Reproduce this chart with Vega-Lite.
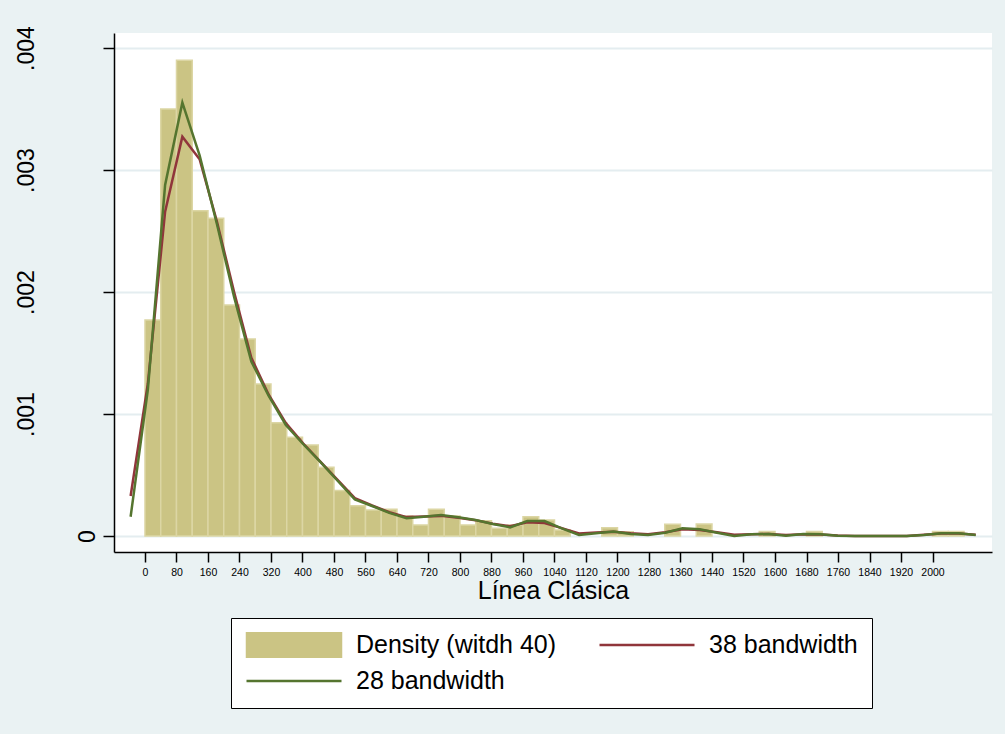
{
  "$schema": "https://vega.github.io/schema/vega-lite/v6.json",
  "width": 878,
  "height": 519,
  "autosize": {"type": "none"},
  "padding": {"left": 114, "top": 33, "right": 13, "bottom": 182},
  "background": "#EAF2F3",
  "config": {
    "view": {"fill": "white", "stroke": null},
    "font": "Liberation Sans",
    "axis": {"labelOverlap": false}
  },
  "datasets": {
    "hist": [
      {"start": 0, "end": 40, "density": 0.00177, "series": "Density (witdh 40)"},
      {"start": 40, "end": 80, "density": 0.0035, "series": "Density (witdh 40)"},
      {"start": 80, "end": 120, "density": 0.0039, "series": "Density (witdh 40)"},
      {"start": 120, "end": 160, "density": 0.002667, "series": "Density (witdh 40)"},
      {"start": 160, "end": 200, "density": 0.002604, "series": "Density (witdh 40)"},
      {"start": 200, "end": 240, "density": 0.001893, "series": "Density (witdh 40)"},
      {"start": 240, "end": 280, "density": 0.001615, "series": "Density (witdh 40)"},
      {"start": 280, "end": 320, "density": 0.001246, "series": "Density (witdh 40)"},
      {"start": 320, "end": 360, "density": 0.000929, "series": "Density (witdh 40)"},
      {"start": 360, "end": 400, "density": 0.000809, "series": "Density (witdh 40)"},
      {"start": 400, "end": 440, "density": 0.000746, "series": "Density (witdh 40)"},
      {"start": 440, "end": 480, "density": 0.000563, "series": "Density (witdh 40)"},
      {"start": 480, "end": 520, "density": 0.000372, "series": "Density (witdh 40)"},
      {"start": 520, "end": 560, "density": 0.000249, "series": "Density (witdh 40)"},
      {"start": 560, "end": 600, "density": 0.000213, "series": "Density (witdh 40)"},
      {"start": 600, "end": 640, "density": 0.000219, "series": "Density (witdh 40)"},
      {"start": 640, "end": 680, "density": 0.000164, "series": "Density (witdh 40)"},
      {"start": 680, "end": 720, "density": 0.00009, "series": "Density (witdh 40)"},
      {"start": 720, "end": 760, "density": 0.000219, "series": "Density (witdh 40)"},
      {"start": 760, "end": 800, "density": 0.000164, "series": "Density (witdh 40)"},
      {"start": 800, "end": 840, "density": 0.00009, "series": "Density (witdh 40)"},
      {"start": 840, "end": 880, "density": 0.000126, "series": "Density (witdh 40)"},
      {"start": 880, "end": 920, "density": 0.000063, "series": "Density (witdh 40)"},
      {"start": 920, "end": 960, "density": 0.00009, "series": "Density (witdh 40)"},
      {"start": 960, "end": 1000, "density": 0.000158, "series": "Density (witdh 40)"},
      {"start": 1000, "end": 1040, "density": 0.000131, "series": "Density (witdh 40)"},
      {"start": 1040, "end": 1080, "density": 0.000049, "series": "Density (witdh 40)"},
      {"start": 1160, "end": 1200, "density": 0.000068, "series": "Density (witdh 40)"},
      {"start": 1200, "end": 1240, "density": 0.000035, "series": "Density (witdh 40)"},
      {"start": 1320, "end": 1360, "density": 0.000096, "series": "Density (witdh 40)"},
      {"start": 1400, "end": 1440, "density": 0.000098, "series": "Density (witdh 40)"},
      {"start": 1560, "end": 1600, "density": 0.000036, "series": "Density (witdh 40)"},
      {"start": 1680, "end": 1720, "density": 0.000036, "series": "Density (witdh 40)"},
      {"start": 2000, "end": 2040, "density": 0.000036, "series": "Density (witdh 40)"},
      {"start": 2040, "end": 2080, "density": 0.000036, "series": "Density (witdh 40)"}
    ],
    "kde": [
      {"start": -36.5, "density": 0.000328, "series": "38 bandwidth"},
      {"start": 7.3, "density": 0.00125, "series": "38 bandwidth"},
      {"start": 51.1, "density": 0.002658, "series": "38 bandwidth"},
      {"start": 94.9, "density": 0.003273, "series": "38 bandwidth"},
      {"start": 138.7, "density": 0.003088, "series": "38 bandwidth"},
      {"start": 182.5, "density": 0.00258, "series": "38 bandwidth"},
      {"start": 226.3, "density": 0.002, "series": "38 bandwidth"},
      {"start": 270.1, "density": 0.00146, "series": "38 bandwidth"},
      {"start": 313.9, "density": 0.00116, "series": "38 bandwidth"},
      {"start": 357.7, "density": 0.000925, "series": "38 bandwidth"},
      {"start": 401.5, "density": 0.00076, "series": "38 bandwidth"},
      {"start": 445.3, "density": 0.00061, "series": "38 bandwidth"},
      {"start": 489.1, "density": 0.00046, "series": "38 bandwidth"},
      {"start": 532.9, "density": 0.00031, "series": "38 bandwidth"},
      {"start": 576.7, "density": 0.00025, "series": "38 bandwidth"},
      {"start": 620.5, "density": 0.000195, "series": "38 bandwidth"},
      {"start": 664.3, "density": 0.000155, "series": "38 bandwidth"},
      {"start": 708.1, "density": 0.00016, "series": "38 bandwidth"},
      {"start": 751.9, "density": 0.000165, "series": "38 bandwidth"},
      {"start": 795.7, "density": 0.00015, "series": "38 bandwidth"},
      {"start": 839.5, "density": 0.00013, "series": "38 bandwidth"},
      {"start": 883.3, "density": 0.0001, "series": "38 bandwidth"},
      {"start": 927.1, "density": 0.00008, "series": "38 bandwidth"},
      {"start": 970.9, "density": 0.000112, "series": "38 bandwidth"},
      {"start": 1014.7, "density": 0.000107, "series": "38 bandwidth"},
      {"start": 1058.5, "density": 0.000065, "series": "38 bandwidth"},
      {"start": 1102.3, "density": 0.00002, "series": "38 bandwidth"},
      {"start": 1146.1, "density": 0.000028, "series": "38 bandwidth"},
      {"start": 1189.9, "density": 0.000035, "series": "38 bandwidth"},
      {"start": 1233.7, "density": 0.000022, "series": "38 bandwidth"},
      {"start": 1277.5, "density": 0.000015, "series": "38 bandwidth"},
      {"start": 1321.3, "density": 0.00003, "series": "38 bandwidth"},
      {"start": 1365.1, "density": 0.000055, "series": "38 bandwidth"},
      {"start": 1408.9, "density": 0.00005, "series": "38 bandwidth"},
      {"start": 1452.7, "density": 0.00003, "series": "38 bandwidth"},
      {"start": 1496.5, "density": 0.00001, "series": "38 bandwidth"},
      {"start": 1540.3, "density": 0.000015, "series": "38 bandwidth"},
      {"start": 1584.1, "density": 0.000016, "series": "38 bandwidth"},
      {"start": 1627.9, "density": 0.000008, "series": "38 bandwidth"},
      {"start": 1671.7, "density": 0.000014, "series": "38 bandwidth"},
      {"start": 1715.5, "density": 0.000012, "series": "38 bandwidth"},
      {"start": 1759.3, "density": 0.000004, "series": "38 bandwidth"},
      {"start": 1803.1, "density": 0.000001, "series": "38 bandwidth"},
      {"start": 1846.9, "density": 0, "series": "38 bandwidth"},
      {"start": 1890.7, "density": 0, "series": "38 bandwidth"},
      {"start": 1934.5, "density": 0.000001, "series": "38 bandwidth"},
      {"start": 1978.3, "density": 0.00001, "series": "38 bandwidth"},
      {"start": 2022.1, "density": 0.00002, "series": "38 bandwidth"},
      {"start": 2065.9, "density": 0.00002, "series": "38 bandwidth"},
      {"start": 2109.7, "density": 0.00001, "series": "38 bandwidth"},
      {"start": -36.5, "density": 0.000158, "series": "28 bandwidth"},
      {"start": 7.3, "density": 0.0012, "series": "28 bandwidth"},
      {"start": 51.1, "density": 0.002877, "series": "28 bandwidth"},
      {"start": 94.9, "density": 0.003552, "series": "28 bandwidth"},
      {"start": 138.7, "density": 0.00312, "series": "28 bandwidth"},
      {"start": 182.5, "density": 0.00256, "series": "28 bandwidth"},
      {"start": 226.3, "density": 0.00196, "series": "28 bandwidth"},
      {"start": 270.1, "density": 0.00143, "series": "28 bandwidth"},
      {"start": 313.9, "density": 0.00115, "series": "28 bandwidth"},
      {"start": 357.7, "density": 0.00091, "series": "28 bandwidth"},
      {"start": 401.5, "density": 0.000754, "series": "28 bandwidth"},
      {"start": 445.3, "density": 0.000607, "series": "28 bandwidth"},
      {"start": 489.1, "density": 0.000453, "series": "28 bandwidth"},
      {"start": 532.9, "density": 0.0003, "series": "28 bandwidth"},
      {"start": 576.7, "density": 0.000246, "series": "28 bandwidth"},
      {"start": 620.5, "density": 0.00019, "series": "28 bandwidth"},
      {"start": 664.3, "density": 0.000145, "series": "28 bandwidth"},
      {"start": 708.1, "density": 0.000158, "series": "28 bandwidth"},
      {"start": 751.9, "density": 0.000172, "series": "28 bandwidth"},
      {"start": 795.7, "density": 0.000153, "series": "28 bandwidth"},
      {"start": 839.5, "density": 0.000131, "series": "28 bandwidth"},
      {"start": 883.3, "density": 0.000098, "series": "28 bandwidth"},
      {"start": 927.1, "density": 0.000071, "series": "28 bandwidth"},
      {"start": 970.9, "density": 0.000123, "series": "28 bandwidth"},
      {"start": 1014.7, "density": 0.000123, "series": "28 bandwidth"},
      {"start": 1058.5, "density": 0.000063, "series": "28 bandwidth"},
      {"start": 1102.3, "density": 0.000008, "series": "28 bandwidth"},
      {"start": 1146.1, "density": 0.000022, "series": "28 bandwidth"},
      {"start": 1189.9, "density": 0.000036, "series": "28 bandwidth"},
      {"start": 1233.7, "density": 0.000016, "series": "28 bandwidth"},
      {"start": 1277.5, "density": 0.000008, "series": "28 bandwidth"},
      {"start": 1321.3, "density": 0.000027, "series": "28 bandwidth"},
      {"start": 1365.1, "density": 0.000063, "series": "28 bandwidth"},
      {"start": 1408.9, "density": 0.000055, "series": "28 bandwidth"},
      {"start": 1452.7, "density": 0.000027, "series": "28 bandwidth"},
      {"start": 1496.5, "density": 0, "series": "28 bandwidth"},
      {"start": 1540.3, "density": 0.000014, "series": "28 bandwidth"},
      {"start": 1584.1, "density": 0.000016, "series": "28 bandwidth"},
      {"start": 1627.9, "density": 0.000003, "series": "28 bandwidth"},
      {"start": 1671.7, "density": 0.000016, "series": "28 bandwidth"},
      {"start": 1715.5, "density": 0.000014, "series": "28 bandwidth"},
      {"start": 1759.3, "density": 0.000003, "series": "28 bandwidth"},
      {"start": 1803.1, "density": 0.000001, "series": "28 bandwidth"},
      {"start": 1846.9, "density": 0, "series": "28 bandwidth"},
      {"start": 1890.7, "density": 0, "series": "28 bandwidth"},
      {"start": 1934.5, "density": 0, "series": "28 bandwidth"},
      {"start": 1978.3, "density": 0.000008, "series": "28 bandwidth"},
      {"start": 2022.1, "density": 0.000022, "series": "28 bandwidth"},
      {"start": 2065.9, "density": 0.000022, "series": "28 bandwidth"},
      {"start": 2109.7, "density": 0.000008, "series": "28 bandwidth"}
    ]
  },
  "encoding": {
    "x": {
      "field": "start", "type": "quantitative",
      "scale": {"domain": [-78.7, 2151.1], "nice": false, "zero": false},
      "axis": {
        "values": [0, 80, 160, 240, 320, 400, 480, 560, 640, 720, 800, 880, 960, 1040, 1120, 1200, 1280, 1360, 1440, 1520, 1600, 1680, 1760, 1840, 1920, 2000],
        "format": "d",
        "labelFontSize": 10.5, "labelColor": "black", "labelPadding": 5, "labelFlush": false, "labelOverlap": false, "labelSeparation": 0,
        "tickSize": 10, "tickColor": "black", "tickWidth": 1.5,
        "domainColor": "black", "domainWidth": 1.5, "grid": false,
        "title": "Línea Clásica", "titleFontSize": 25, "titleFontWeight": "normal", "titleColor": "black", "titlePadding": 1
      }
    },
    "y": {
      "field": "density", "type": "quantitative",
      "scale": {"domain": [-0.0001311, 0.004123], "nice": false, "zero": false},
      "axis": {
        "values": [0, 0.001, 0.002, 0.003, 0.004],
        "labelExpr": "datum.value == 0 ? '0' : substring(format(datum.value, '.3f'), 1)",
        "labelAngle": 270, "labelAlign": "center", "labelBaseline": "bottom",
        "labelFontSize": 23, "labelColor": "black",
        "labelPadding": {"condition": {"test": "datum.value == 0", "value": 4}, "value": 65},
        "tickSize": 11, "tickColor": "black", "tickWidth": 1.5,
        "domainColor": "black", "domainWidth": 1.5,
        "grid": true, "gridColor": "#E4EDF0", "gridWidth": 2,
        "title": null
      }
    },
    "color": {
      "field": "series", "type": "nominal",
      "scale": {"domain": ["Density (witdh 40)", "28 bandwidth", "38 bandwidth"], "range": ["#CBC484", "#55752F", "#90353B"]},
      "legend": {
        "orient": "none", "legendX": 117, "legendY": 585,
        "title": null, "columns": 2,
        "labelFontSize": 25, "labelColor": "black", "labelLimit": 400,
        "symbolSize": 9025, "clipHeight": 26, "rowPadding": 10, "columnPadding": 41, "labelOffset": 13,
        "padding": 14, "strokeColor": "black", "fillColor": "white", "symbolStrokeWidth": 2.5,
        "encode": {
          "symbols": {
            "update": {
              "shape": {"signal": "(datum.value === 'Density (witdh 40)' ? 'M-1,-0.284H1V0.284H-1Z' : 'M-1,0H1')"},
              "fill": {"signal": "(datum.value === 'Density (witdh 40)' ? '#CBC484' : 'transparent')"},
              "stroke": {"signal": "(datum.value === 'Density (witdh 40)' ? '#DCD6A4' : datum.value === '38 bandwidth' ? '#90353B' : '#55752F')"},
              "strokeWidth": {"signal": "(datum.value === 'Density (witdh 40)' ? 1.5 : 2.5)"},
              "opacity": {"value": 1}
            }
          }
        }
      }
    }
  },
  "layer": [
    {
      "data": {"name": "hist"},
      "mark": {"type": "rect", "stroke": "#DCD6A4", "strokeWidth": 1.5},
      "encoding": {
        "x2": {"field": "end"},
        "y2": {"datum": 0}
      }
    },
    {
      "data": {"name": "kde"},
      "transform": [{"filter": "datum.series == '38 bandwidth'"}],
      "mark": {"type": "line", "strokeWidth": 2.5}
    },
    {
      "data": {"name": "kde"},
      "transform": [{"filter": "datum.series == '28 bandwidth'"}],
      "mark": {"type": "line", "strokeWidth": 2.5}
    }
  ]
}
